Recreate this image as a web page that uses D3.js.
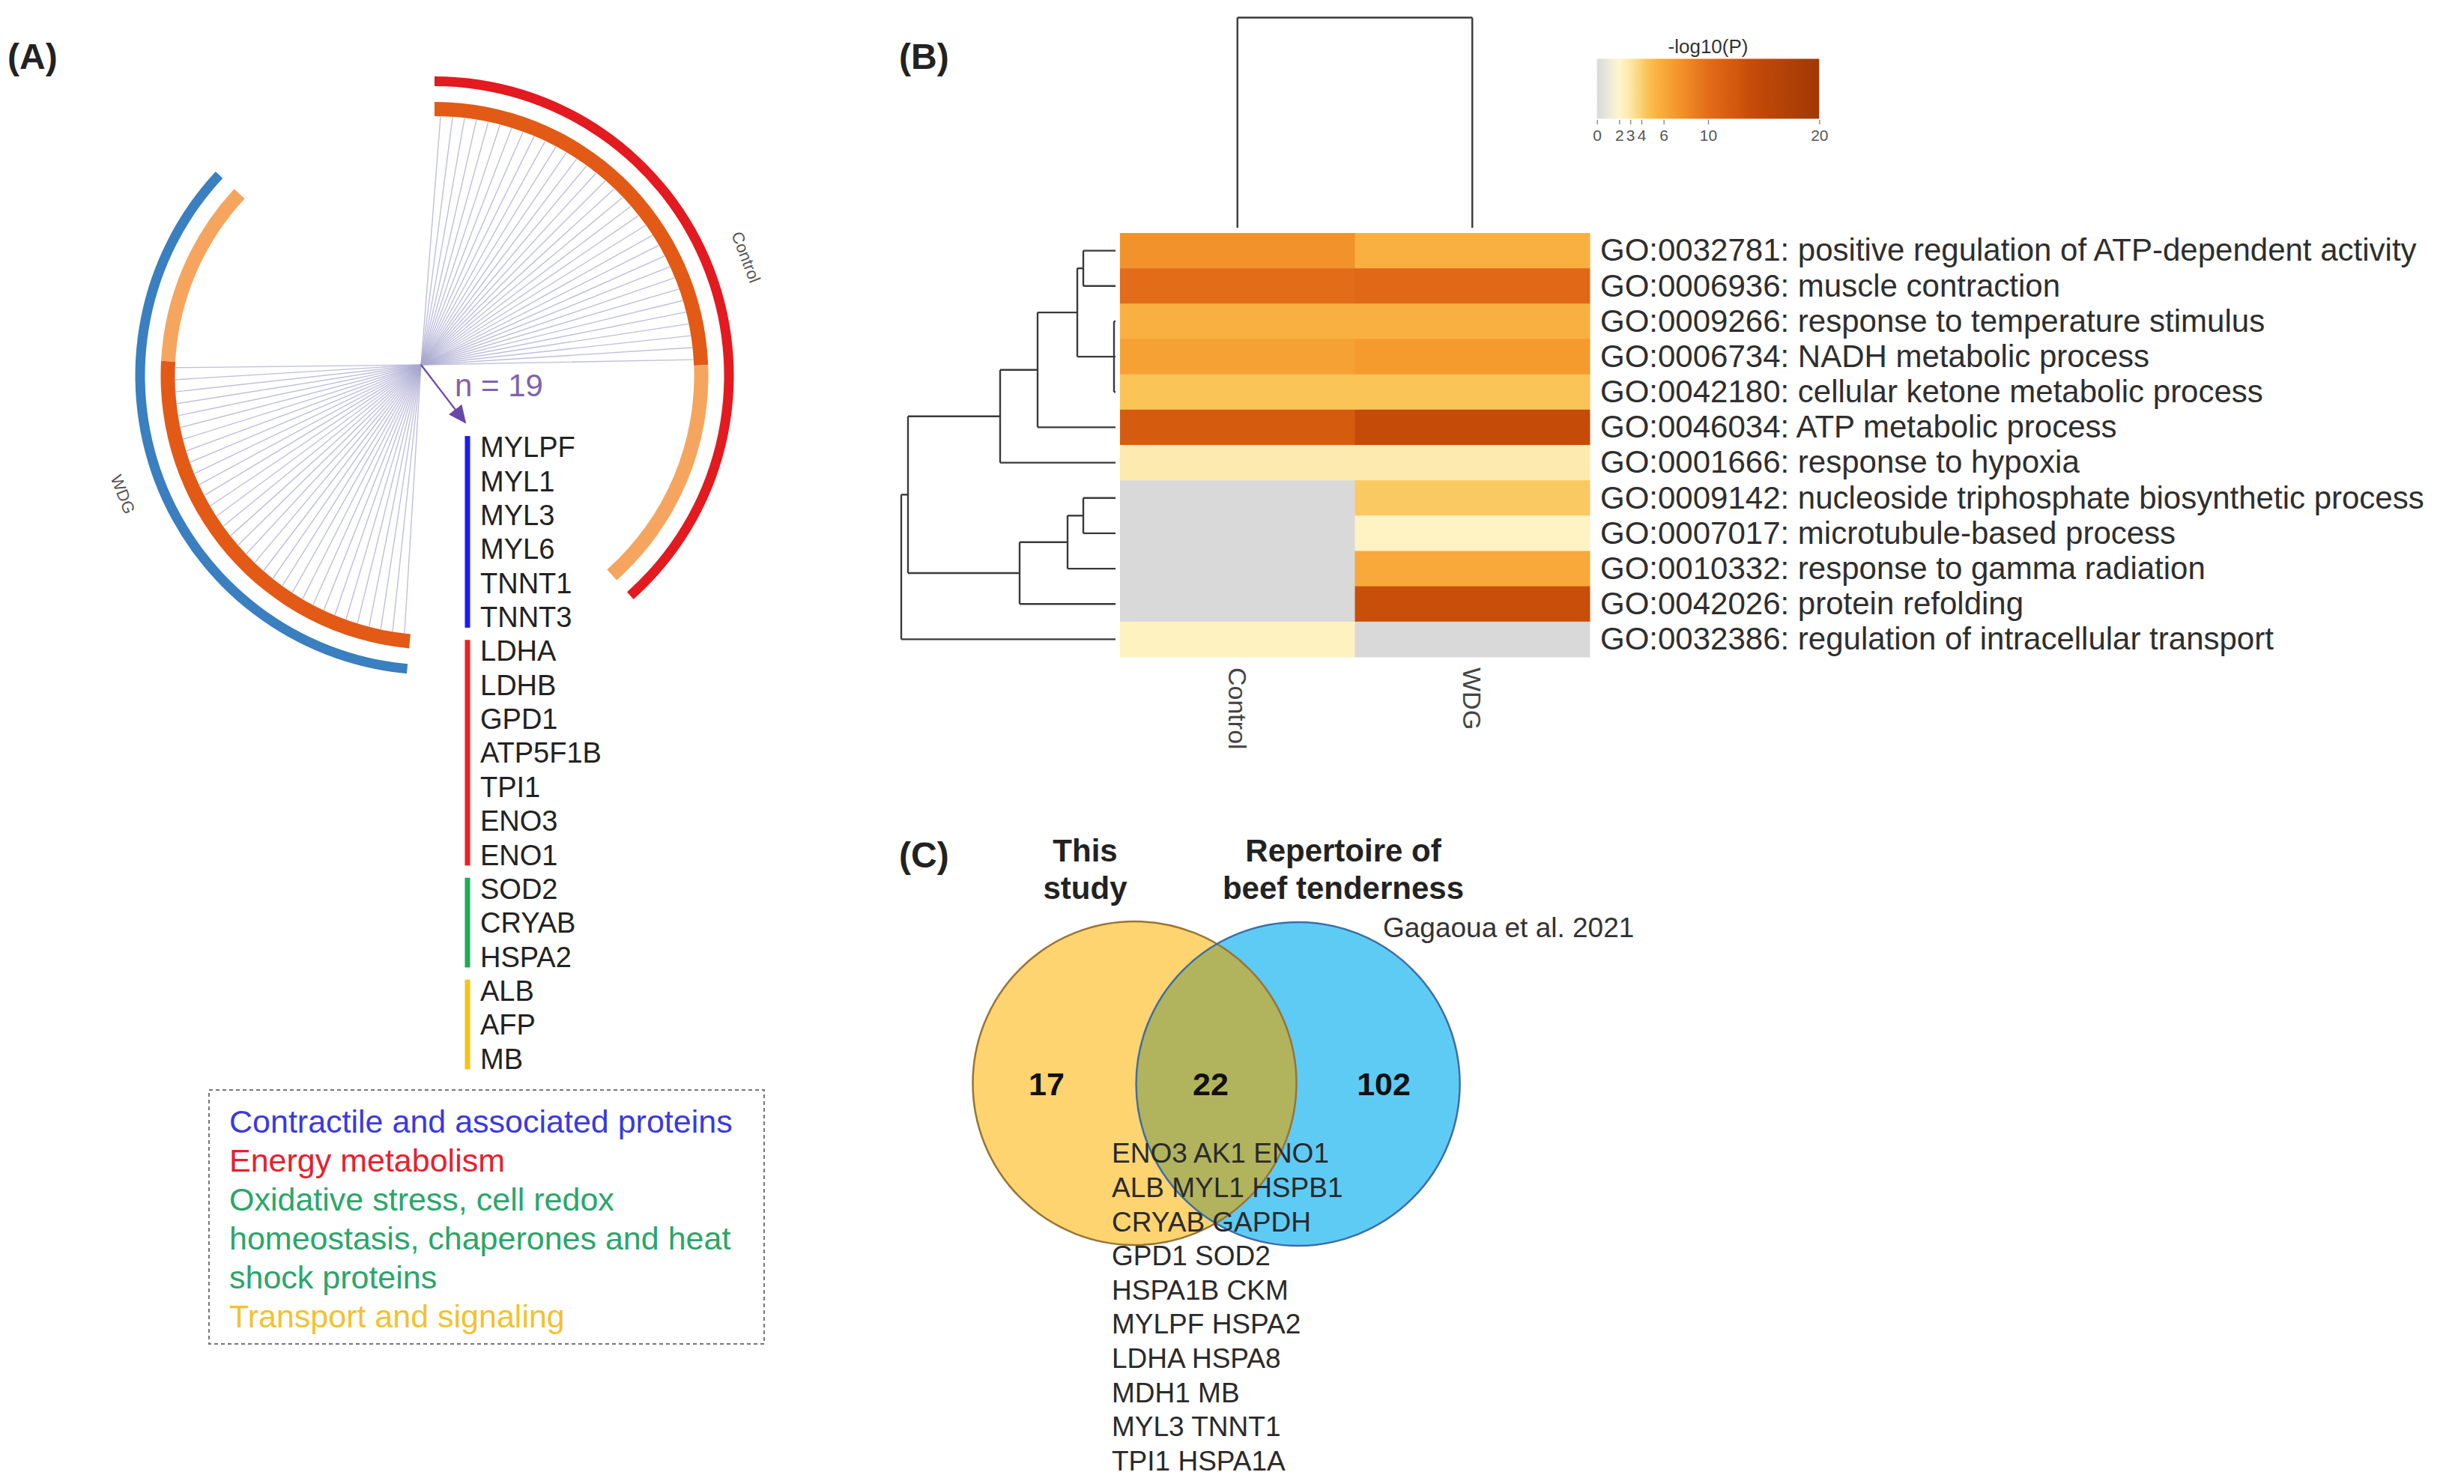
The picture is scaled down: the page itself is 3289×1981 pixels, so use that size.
<!DOCTYPE html>
<html><head><meta charset="utf-8">
<script src="https://cdn.jsdelivr.net/npm/d3@7"></script>
<style>
body{margin:0;background:#fff;}
text{font-family:"Liberation Sans",Arial,Helvetica,sans-serif;}
</style>
</head><body>
<svg id="fig" width="3289" height="1981" xmlns="http://www.w3.org/2000/svg"></svg>
<script>
// ================= DATA =================
// Panel A: circos of the two protein lists
const circosLists = ["Control", "WDG"];
const circosListSizes = [52, 48];          // genes per list (arc length)
const circosSharedCount = 33;              // genes shared (dark orange, linked)
const circosGapDeg = 47;
const overlapLabel = "n = 19";
const overlapGenes = ["MYLPF","MYL1","MYL3","MYL6","TNNT1","TNNT3","LDHA","LDHB","GPD1","ATP5F1B","TPI1","ENO3","ENO1","SOD2","CRYAB","HSPA2","ALB","AFP","MB"];
const overlapGeneCategory = [0,0,0,0,0,0,1,1,1,1,1,1,1,2,2,2,3,3,3];
const categoryNames = [
  ["Contractile and associated proteins"],
  ["Energy metabolism"],
  ["Oxidative stress, cell redox","homeostasis, chaperones and heat","shock proteins"],
  ["Transport and signaling"]
];
const categoryBarColors = ["#1c1cf0","#ee1f26","#1faa55","#f6c414"];
const categoryTextColors = ["#3a3add","#e8202e","#2aa66a","#f2c230"];

// Panel B: GO enrichment heatmap
const goTerms = [
  "GO:0032781: positive regulation of ATP-dependent activity",
  "GO:0006936: muscle contraction",
  "GO:0009266: response to temperature stimulus",
  "GO:0006734: NADH metabolic process",
  "GO:0042180: cellular ketone metabolic process",
  "GO:0046034: ATP metabolic process",
  "GO:0001666: response to hypoxia",
  "GO:0009142: nucleoside triphosphate biosynthetic process",
  "GO:0007017: microtubule-based process",
  "GO:0010332: response to gamma radiation",
  "GO:0042026: protein refolding",
  "GO:0032386: regulation of intracellular transport"
];
const heatColumns = ["Control", "WDG"];
const controlLogP = [7.5, 10.0, 5.5, 6.5, 4.5, 12.0, 2.8, null, null, null, null, 2.3];
const wdgLogP     = [5.5, 10.5, 5.5, 7.0, 4.5, 14.0, 2.8, 4.3, 2.2, 6.0, 13.5, null];
const legendTicks = [0, 2, 3, 4, 6, 10, 20];
const legendTitle = "-log10(P)";
// row dendrogram (leaf = row index, h = merge height)
const rowTree = {h:286, c:[
  {h:277, c:[
    {h:154, c:[
      {h:104, c:[
        {h:51, c:[ {h:43, c:[0,1]}, {h:2, c:[2,3,4]} ]},
        5 ]},
      6 ]},
    {h:128, c:[
      {h:64, c:[ {h:43, c:[7,8]}, 9 ]},
      10 ]}
  ]},
  11 ]};
const colTreeHeight = 1;

// Panel C: Venn
const vennTitles = [["This","study"], ["Repertoire of","beef tenderness"]];
const vennSource = "Gagaoua et al. 2021";
const vennCounts = [17, 22, 102];   // only this study, shared, only repertoire
const vennSharedGenes = ["ENO3 AK1 ENO1","ALB MYL1 HSPB1","CRYAB GAPDH","GPD1 SOD2","HSPA1B CKM","MYLPF HSPA2","LDHA HSPA8","MDH1 MB","MYL3 TNNT1","TPI1 HSPA1A"];

// ================= DRAW =================
const svg = d3.select("#fig");
svg.append("rect").attr("width",3289).attr("height",1981).attr("fill","#fff");
const FONT = '"Liberation Sans", Arial, sans-serif';

// panel letters
[["(A)",10,92],["(B)",1200,92],["(C)",1200,1158]].forEach(([t,x,y])=>{
  svg.append("text").attr("x",x).attr("y",y).text(t)
    .attr("font-size",48).attr("font-weight","bold").attr("fill","#222");
});

// ---------- Panel A ----------
const A = svg.append("g");
const cx = 580, cy = 501.5;
const hub = [562, 487];
const totalGenes = d3.sum(circosListSizes);
const degPerGene = (360 - 2*circosGapDeg) / totalGenes;
let cursor = 0;
const lists = circosLists.map((name,i)=>{
  const s = cursor, e = s + circosListSizes[i]*degPerGene;
  cursor = e + circosGapDeg;
  return {name, s, e, size:circosListSizes[i],
          ang: d3.scaleLinear().domain([0, circosListSizes[i]]).range([s, e])};
});
const rad = d => d*Math.PI/180;
const outerColors = ["#e31a1f", "#3a7fbf"];
const darkOrange = "#e25a16", lightOrange = "#f6a55f";
const outerArc = d3.arc().innerRadius(386.5).outerRadius(399.5);
const innerArc = d3.arc().innerRadius(346.5).outerRadius(365.5);
const gA = A.append("g").attr("transform",`translate(${cx},${cy})`);
lists.forEach((L,i)=>{
  gA.append("path").attr("d", outerArc({startAngle:rad(L.s), endAngle:rad(L.e)})).attr("fill", outerColors[i]);
  const mid = L.ang(circosSharedCount);
  gA.append("path").attr("d", innerArc({startAngle:rad(L.s), endAngle:rad(mid)})).attr("fill", darkOrange);
  gA.append("path").attr("d", innerArc({startAngle:rad(mid), endAngle:rad(L.e)})).attr("fill", lightOrange);
  // list label
  const am = (L.s+L.e)/2, rl = 445;
  const px = cx + rl*Math.sin(rad(am)), py = cy - rl*Math.cos(rad(am));
  const rot = am > 180 ? am-180 : am;
  A.append("text").attr("transform",`translate(${px},${py}) rotate(${rot})`)
    .attr("text-anchor","middle").attr("dy","0.35em").attr("font-size",22).attr("fill","#555").text(L.name);
});
// links
const pt = (a, r) => [cx + r*Math.sin(rad(a)), cy - r*Math.cos(rad(a))];
const linkLine = d3.line();
d3.range(circosSharedCount).forEach(i=>{
  const p1 = pt(lists[0].ang(i+0.5), 346);
  const p2 = pt(lists[1].ang(i+0.5), 346);
  A.append("path").attr("d", linkLine([p1, hub, p2]))
    .attr("fill","none").attr("stroke","#a8a8d0").attr("stroke-opacity",0.75).attr("stroke-width",1.4);
});
// arrow
const defs = svg.append("defs");
defs.append("marker").attr("id","arrowhead").attr("markerUnits","userSpaceOnUse")
  .attr("markerWidth",24).attr("markerHeight",22).attr("refX",22).attr("refY",11).attr("orient","auto")
  .append("path").attr("d","M0,0 L24,11 L0,22 z").attr("fill","#6a46a8");
A.append("line").attr("x1",hub[0]).attr("y1",hub[1]).attr("x2",621).attr("y2",564)
  .attr("stroke","#6a46a8").attr("stroke-width",2.2).attr("marker-end","url(#arrowhead)");
A.append("text").attr("x",607).attr("y",529).attr("font-size",42).attr("fill","#8262ad").text(overlapLabel);

// gene list
const geneY = d3.scaleLinear().domain([0, overlapGenes.length-1]).range([596.6, 1413]);
const gStep = geneY(1)-geneY(0);
A.selectAll("text.gene").data(overlapGenes).join("text").attr("class","gene")
  .attr("x",641).attr("y",(d,i)=>geneY(i)).attr("dy","0.36em")
  .attr("font-size",38).attr("fill","#222").text(d=>d);
d3.range(categoryNames.length).forEach(c=>{
  const idx = overlapGeneCategory.map((v,i)=>v===c?i:-1).filter(i=>i>=0);
  const y0 = geneY(d3.min(idx)) - 0.32*gStep, y1 = geneY(d3.max(idx)) + 0.32*gStep;
  A.append("rect").attr("x",620.5).attr("y",y0).attr("width",7).attr("height",y1-y0).attr("fill",categoryBarColors[c]);
});
// legend box
A.append("rect").attr("x",279).attr("y",1455).attr("width",741).attr("height",339)
  .attr("fill","none").attr("stroke","#777").attr("stroke-width",2).attr("stroke-dasharray","5,4");
let ly = 1497;
categoryNames.forEach((lines,c)=>{
  lines.forEach(line=>{
    A.append("text").attr("x",306).attr("y",ly).attr("dy","0.36em").attr("font-size",43)
      .attr("fill",categoryTextColors[c]).text(line);
    ly += 52;
  });
});

// ---------- Panel B ----------
const B = svg.append("g");
const xCol = d3.scaleBand().domain(heatColumns).range([1495, 2122]);
const yRow = d3.scaleBand().domain(d3.range(goTerms.length)).range([311, 877]);
const color = d3.scaleLinear()
  .domain([0, 1, 2, 3, 4.5, 5.5, 7, 10, 12, 14, 20])
  .range(["#d9d9d9","#ebe9d8","#fff6cc","#fde7a6","#fac457","#f9b041","#f59a2d","#e36c18","#d55c0e","#c44b08","#a03805"])
  .clamp(true);
const naColor = "#d9d9d9";
const cells = [];
goTerms.forEach((t,i)=>{
  cells.push({col:"Control", row:i, v:controlLogP[i]});
  cells.push({col:"WDG", row:i, v:wdgLogP[i]});
});
B.selectAll("rect.cell").data(cells).join("rect").attr("class","cell")
  .attr("x",d=>xCol(d.col)).attr("y",d=>yRow(d.row))
  .attr("width",xCol.bandwidth()+0.5).attr("height",yRow.bandwidth()+0.5)
  .attr("fill",d=>d.v==null?naColor:color(d.v));
B.selectAll("text.go").data(goTerms).join("text").attr("class","go")
  .attr("x",2136).attr("y",(d,i)=>yRow(i)+yRow.bandwidth()/2).attr("dy","0.33em")
  .attr("font-size",42).attr("fill","#2e2e2e").text(d=>d);
B.selectAll("text.col").data(heatColumns).join("text").attr("class","col")
  .attr("transform",d=>`translate(${xCol(d)+xCol.bandwidth()/2},891) rotate(90)`)
  .attr("dy","0.35em").attr("font-size",34).attr("fill","#444").text(d=>d);

// row dendrogram
const hx = d3.scaleLinear().domain([0, rowTree.h]).range([1489, 1203]);
const dStroke = "#3a3a3a";
function drawNode(n){
  if (typeof n === "number") return {y: yRow(n)+yRow.bandwidth()/2, x: hx(0)};
  const kids = n.c.map(drawNode);
  const x = hx(n.h);
  const ys = kids.map(k=>k.y);
  B.append("line").attr("x1",x).attr("x2",x).attr("y1",d3.min(ys)).attr("y2",d3.max(ys))
    .attr("stroke",dStroke).attr("stroke-width",2.4);
  kids.forEach(k=>{
    B.append("line").attr("x1",x).attr("x2",k.x).attr("y1",k.y).attr("y2",k.y)
      .attr("stroke",dStroke).attr("stroke-width",2.4);
  });
  return {y:(d3.min(ys)+d3.max(ys))/2, x};
}
drawNode(rowTree);
// column dendrogram
const hy = d3.scaleLinear().domain([0, colTreeHeight]).range([304, 23.5]);
const colX = heatColumns.map(c=>xCol(c)+xCol.bandwidth()/2);
colX.forEach(x=>{
  B.append("line").attr("x1",x).attr("x2",x).attr("y1",hy(0)).attr("y2",hy(colTreeHeight))
    .attr("stroke",dStroke).attr("stroke-width",2.4);
});
B.append("line").attr("x1",colX[0]).attr("x2",colX[1]).attr("y1",hy(colTreeHeight)).attr("y2",hy(colTreeHeight))
  .attr("stroke",dStroke).attr("stroke-width",2.4);

// color legend
const lx = d3.scaleLinear().domain([0,20]).range([2131.7, 2428.3]);
const grad = defs.append("linearGradient").attr("id","lg").attr("x1","0%").attr("x2","100%");
d3.range(0, 20.01, 0.5).forEach(v=>{
  grad.append("stop").attr("offset",(v/20*100)+"%").attr("stop-color",color(v));
});
B.append("rect").attr("x",lx(0)).attr("y",78.5).attr("width",lx(20)-lx(0)).attr("height",80).attr("fill","url(#lg)");
const lAxis = B.append("g").attr("transform","translate(0,160)")
  .call(d3.axisBottom(lx).tickValues(legendTicks).tickSize(6).tickSizeOuter(0));
lAxis.select(".domain").remove();
lAxis.selectAll("line").attr("stroke","#777").attr("stroke-width",1.2);
lAxis.selectAll("text").attr("font-size",21).attr("fill","#555").attr("font-family",FONT).attr("dy","0.9em");
B.append("text").attr("x",2280).attr("y",62).attr("dy","0.35em").attr("text-anchor","middle")
  .attr("font-size",26).attr("fill","#333").text(legendTitle);

// ---------- Panel C ----------
const C = svg.append("g");
const circ = [{cx:1514.5, cy:1446, r:216}, {cx:1732.6, cy:1447, r:216}];
defs.append("clipPath").attr("id","clipY").append("circle").attr("cx",circ[0].cx).attr("cy",circ[0].cy).attr("r",circ[0].r);
C.append("circle").attr("cx",circ[1].cx).attr("cy",circ[1].cy).attr("r",circ[1].r).attr("fill","#5ecbf5");
C.append("circle").attr("cx",circ[0].cx).attr("cy",circ[0].cy).attr("r",circ[0].r).attr("fill","#fdd470");
C.append("circle").attr("cx",circ[1].cx).attr("cy",circ[1].cy).attr("r",circ[1].r).attr("fill","#b2b35d").attr("clip-path","url(#clipY)");
C.append("circle").attr("cx",circ[0].cx).attr("cy",circ[0].cy).attr("r",circ[0].r).attr("fill","none").attr("stroke","#9a7434").attr("stroke-width",2.5);
C.append("circle").attr("cx",circ[1].cx).attr("cy",circ[1].cy).attr("r",circ[1].r).attr("fill","none").attr("stroke","#3d6ea8").attr("stroke-width",2.5);
const countX = [1397, 1616, 1847];
vennCounts.forEach((v,i)=>{
  C.append("text").attr("x",countX[i]).attr("y",1447).attr("dy","0.36em").attr("text-anchor","middle")
    .attr("font-size",43).attr("font-weight","bold").attr("fill","#111").text(v);
});
const titleX = [1448.5, 1793];
vennTitles.forEach((lines,i)=>{
  lines.forEach((l,j)=>{
    C.append("text").attr("x",titleX[i]).attr("y",1150 + j*50).attr("text-anchor","middle")
      .attr("font-size",42).attr("font-weight","bold").attr("fill","#222").text(l);
  });
});
C.append("text").attr("x",1846).attr("y",1238).attr("dy","0.36em").attr("font-size",37).attr("fill","#333").text(vennSource);
C.selectAll("text.vg").data(vennSharedGenes).join("text").attr("class","vg")
  .attr("x",1484).attr("y",(d,i)=>1539 + i*45.6).attr("dy","0.36em")
  .attr("font-size",37).attr("fill","#2a2a2a").text(d=>d);
</script>
</body></html>
